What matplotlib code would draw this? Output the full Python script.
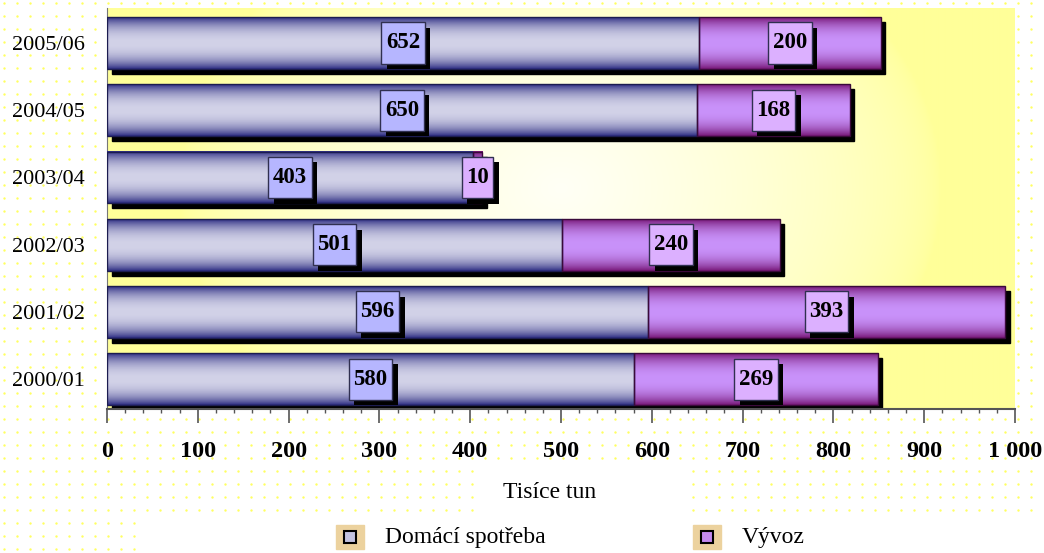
import numpy as np
import matplotlib
matplotlib.use('Agg')
import matplotlib.pyplot as plt
import matplotlib.patheffects as pe
from matplotlib.patches import Rectangle
from matplotlib.path import Path
from matplotlib.colors import to_rgb

plt.rcParams['font.family'] = 'Liberation Serif'

years = ['2000/01', '2001/02', '2002/03', '2003/04', '2004/05', '2005/06']
domestic = [580, 596, 501, 403, 650, 652]
export = [269, 393, 240, 10, 168, 200]
series_names = ['Domácí spotřeba', 'Vývoz']
xticks = [0, 100, 200, 300, 400, 500, 600, 700, 800, 900, 1000]
xtick_labels = ['0', '100', '200', '300', '400', '500', '600', '700', '800', '900', '1 000']

W, H = 1044, 553
fig = plt.figure(figsize=(W / 100, H / 100), dpi=100)

# dotted page background
bg = fig.add_axes([0, 0, 1, 1], zorder=-10)
bg.set_xlim(0, W)
bg.set_ylim(H, 0)
bg.axis('off')
gx, gy = np.meshgrid(np.arange(4, W, 13), np.arange(3, H, 13))
gx, gy = gx.ravel(), gy.ravel()
keep = ~((gx > 100) & (gx < 1018) & (gy > 5) & (gy < 412))
keep &= ~((gy > 510) & (gx > 145))
keep &= ~((gx > 480) & (gx < 687) & (gy > 465))
bg.scatter(gx[keep], gy[keep], s=3, color='#ffff60', linewidths=0)

x0, x1, ytop, ybot = 107, 1015, 8, 408
ax = fig.add_axes([x0 / W, 1 - ybot / H, (x1 - x0) / W, (ybot - ytop) / H])

# spines first: moving a spine rebuilds the ticks
for s in ['top', 'right']:
    ax.spines[s].set_visible(False)
ax.spines['left'].set_color('#777777')
ax.spines['bottom'].set_color('#555555')
ax.spines['bottom'].set_linewidth(1.5)
ax.spines['bottom'].set_position(('outward', 1))

# plot area: yellow with a pale radial glow
gxx, gyy = np.meshgrid(np.linspace(0, 1, 300), np.linspace(0, 1, 200))
d = np.sqrt(((gxx - 0.5) / 0.42) ** 2 + ((gyy - 0.55) / 0.75) ** 2)
w = np.clip(1 - d, 0, 1) ** 0.6
yel, pale = np.array(to_rgb('#ffff99')), np.array(to_rgb('#fffff6'))
img = yel[None, None, :] * (1 - w[..., None]) + pale[None, None, :] * w[..., None]
ax.imshow(img, extent=[0, 1, 0, 1], transform=ax.transAxes, origin='lower',
          aspect='auto', zorder=0, interpolation='bilinear')


def bar_gradient(dark, light, n=80):
    t = np.linspace(-1, 1, n)
    k = (1 - np.abs(t) ** 2.2) ** 0.9
    dk, lt = np.array(to_rgb(dark)), np.array(to_rgb(light))
    return (dk[None, :] * (1 - k[:, None]) + lt[None, :] * k[:, None])[:, None, :]


def tall_box(x0, y0, width, height, mutation_size):
    # rectangle with less padding at the sides than above/below
    px, py = 0.2 * mutation_size, 0.44 * mutation_size
    l, r, b, t = x0 - px, x0 + width + px, y0 - py, y0 + height + py
    return Path([(l, b), (r, b), (r, t), (l, t), (l, b)], closed=True)


grad_dom = bar_gradient('#2c2c82', '#d2d2e8')
grad_exp = bar_gradient('#761676', '#c992fa')

h = 0.77
sx, sy = 5.0, 0.075
ypos = np.arange(len(years))
shadow = [pe.SimplePatchShadow(offset=(4, -4), shadow_rgbFace='black', alpha=1.0), pe.Normal()]
for i, y in enumerate(ypos):
    dv, ev = domestic[i], export[i]
    total = dv + ev
    ax.add_patch(Rectangle((sx, y - h / 2 - sy), total, h, color='black', zorder=2))
    for left, width, grad, edge in [(0, dv, grad_dom, '#1c1c50'), (dv, ev, grad_exp, '#3a0a3a')]:
        ax.imshow(grad, extent=[left, left + width, y - h / 2, y + h / 2],
                  aspect='auto', zorder=3, interpolation='bilinear')
        ax.add_patch(Rectangle((left, y - h / 2), width, h, fill=False,
                               edgecolor=edge, linewidth=1, zorder=4))

    # value labels in boxes with a drop shadow
    for cx, val, face in [(dv / 2, dv, '#b6b6ff'), (dv + ev / 2, ev, '#dcb0ff')]:
        t = ax.text(cx, y, str(val), ha='center', va='center',
                    fontsize=16.5, fontweight='bold', color='black', zorder=6,
                    bbox=dict(boxstyle=tall_box, fc=face, ec='#303050', lw=1))
        t.get_bbox_patch().set_path_effects(shadow)

ax.set_xlim(0, 1000)
ax.set_ylim(-0.43, 5.52)
ax.set_aspect('auto')
ax.set_xticks(xticks)
ax.set_xticks(np.arange(0, 1001, 20), minor=True)
ax.tick_params(axis='x', which='major', length=10, width=1.2, color='#555555', pad=13)
ax.tick_params(axis='x', which='minor', length=3, width=1, color='#555555')
ax.set_xticklabels(xtick_labels, fontsize=17.5, fontweight='bold')
ax.set_yticks(ypos)
ax.tick_params(axis='y', length=0, pad=16)
ax.set_yticklabels(years, fontsize=16)

fig.text(550 / W, 1 - 493 / H, 'Tisíce tun', ha='center', va='center', fontsize=17)

# legend
for cx, name, col in [(350, series_names[0], '#c2c2e0'), (707, series_names[1], '#c48af0')]:
    fig.patches.append(Rectangle(((cx - 14) / W, 1 - (537 + 12) / H), 28 / W, 24 / H,
                                 transform=fig.transFigure, color='#ecd29e', zorder=1))
    fig.patches.append(Rectangle(((cx - 6) / W, 1 - (537 + 6) / H), 12 / W, 12 / H,
                                 transform=fig.transFigure, facecolor=col,
                                 edgecolor='black', linewidth=1.5, zorder=2))
    fig.text((cx + 35) / W, 1 - 537 / H, name, ha='left', va='center', fontsize=17)

fig.savefig('out.png', dpi=100)
